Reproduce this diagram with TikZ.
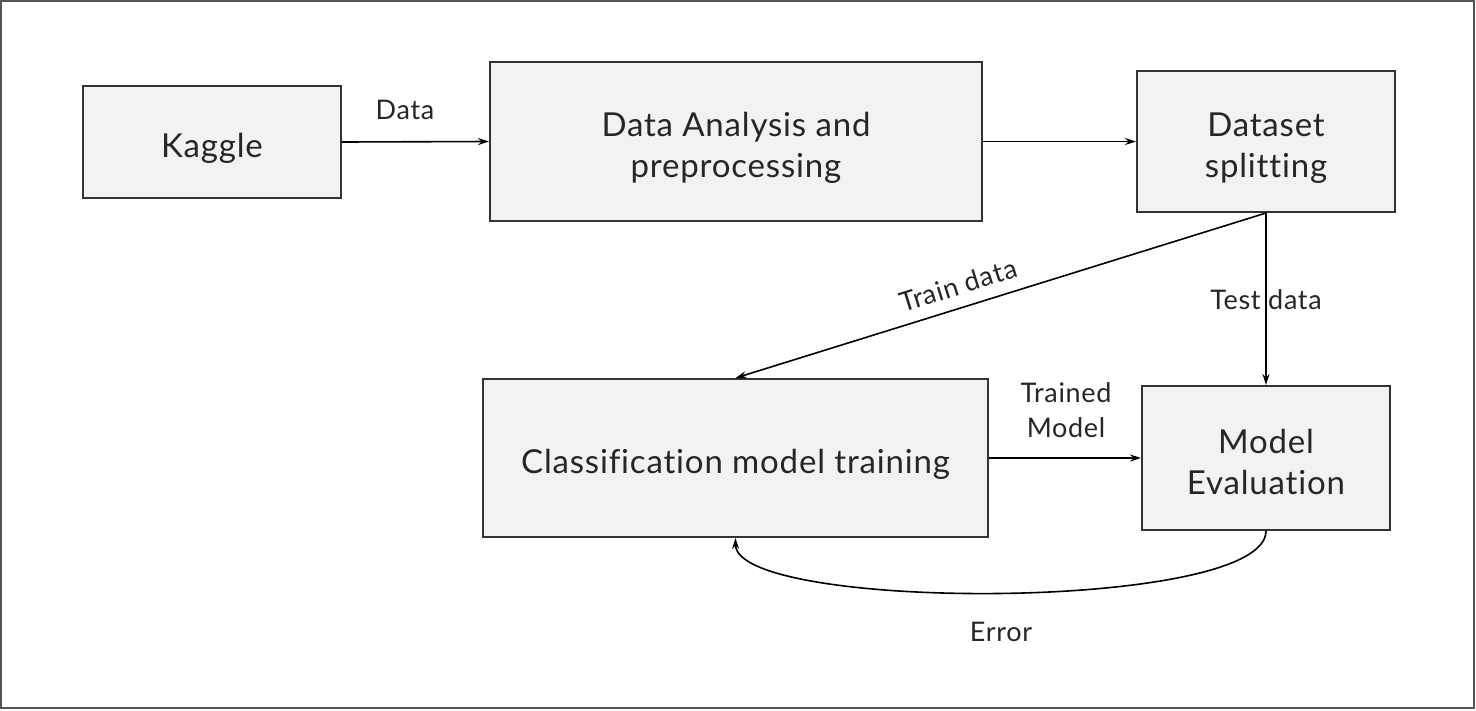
\documentclass[tikz,border=0pt]{standalone}
\usepackage{fontspec}
\setmainfont[LetterSpace=2.5,Ligatures=NoCommon]{Lato}
\usetikzlibrary{arrows.meta}
\definecolor{boxfill}{HTML}{F2F2F2}
\definecolor{boxline}{HTML}{333333}
\definecolor{txt}{HTML}{262626}
\definecolor{frame}{HTML}{555555}
\tikzset{
  block/.style={draw=boxline, line width=2pt, fill=boxfill, text=txt, align=center,
    inner sep=0pt, text height=31pt, text depth=0pt, font=\fontsize{33}{41}\selectfont},
  blocktwo/.style={block, text height=72pt},
  lbl/.style={text=txt, align=center, inner sep=0pt, font=\fontsize{27}{35}\selectfont},
  conn/.style={draw=black, line width=1.6pt, -{Stealth[length=11pt,width=7pt]}}
}
\begin{document}
\begin{tikzpicture}[x=1pt,y=-1pt]
\useasboundingbox (0,0) rectangle (1476,710);
\draw[frame, line width=2pt] (1,1) rectangle (1474,708);

\node[block, minimum width=258pt, minimum height=112pt] (kag) at (212,142) {Kaggle};
\node[blocktwo, minimum width=492pt, minimum height=159pt] (dap) at (736,141.5) {Data Analysis and\\preprocessing};
\node[blocktwo, minimum width=258pt, minimum height=141pt] (dss) at (1266,141.5) {Dataset\\splitting};
\node[block, minimum width=505pt, minimum height=158pt] (cmt) at (735.5,458) {Classification model training};
\node[blocktwo, minimum width=248pt, minimum height=144pt] (mev) at (1266,458) {Model\\Evaluation};

\draw[conn] (kag.east) -- (dap.west);
\draw[conn] (dap.east) -- (dss.west);
\draw[conn] (dss.south) -- (cmt.north);
\draw[conn] (dss.south) -- (mev.north);
\draw[conn] (cmt.east) -- (mev.west);
\draw[conn] (mev.south) .. controls (1266,612) and (736,612) .. (cmt.south);

\node[lbl] (ldata) at (405,110) {Data};
\node[lbl, rotate=17.4] (ltrain) at (958,285) {Train data};
\node[lbl] (ltest) at (1266,300) {Test data};
\node[lbl] (ltrained) at (1066,410) {Trained\\Model};
\node[lbl] (lerr) at (1001,632) {Error};
\end{tikzpicture}
\end{document}
